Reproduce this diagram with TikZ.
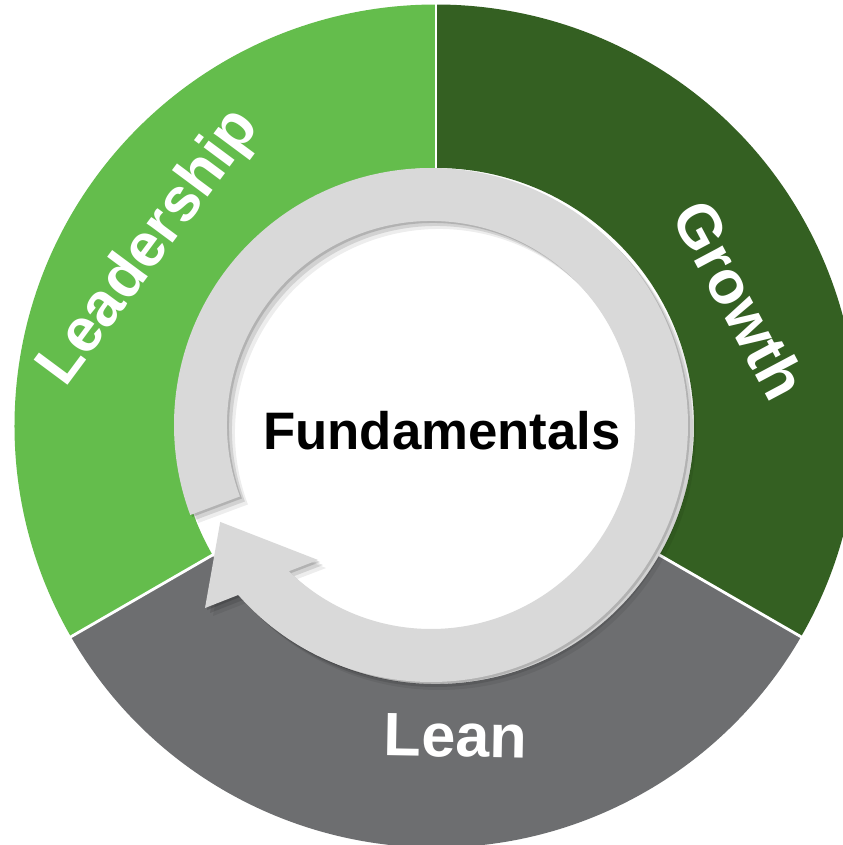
\documentclass[tikz,border=0pt]{standalone}
\usepackage{fontspec}
\setmainfont{Liberation Sans}

\definecolor{leadgreen}{RGB}{100,189,76}
\definecolor{growthgreen}{RGB}{52,96,34}
\definecolor{leangray}{RGB}{109,110,112}
\definecolor{bandgray}{RGB}{217,217,217}

\begin{document}
\begin{tikzpicture}[x=0.01cm, y=0.01cm,
        sep/.style={white, line width=0.8pt},
        lbl/.style={text=white, font=\bfseries\fontsize{17.4}{21}\selectfont, inner sep=0pt}]
    \useasboundingbox (-436,-419) rectangle (407,426);
    \clip (-436,-419) rectangle (407,426);
    \fill[white] (-436,-419) rectangle (407,426);

    % the three parts of the ring
    \foreach \a/\c in {90/leadgreen, -30/growthgreen, 210/leangray}
        \fill[\c] (\a:258) -- (\a:421.5) arc[start angle=\a, delta angle=120, radius=421.5]
            -- ({\a+120}:258) arc[start angle=\a+120, delta angle=-120, radius=258] -- cycle;
    \foreach \a in {90,210,330}
        \draw[sep] (\a:250) -- (\a:430);

    % circular arrow, with its shadow
    \foreach \s/\o/\c in {8/0.07/black, 5/0.11/black, 2/0.15/black, 0/1/bandgray}
        \fill[\c, opacity=\o, shift={(-5+\s,1-\s)}]
            (221.4:257) arc[start angle=221.4, end angle=560.5, radius=257]
            -- (560.5:204) arc[start angle=560.5, end angle=225.8, radius=204]
            -- (230.1:176) -- (204.7:232) -- (219:290.8) -- cycle;

    % labels
    \node[lbl, rotate=53.4] (leadership) at (-286,178) {Leadership};
    \node[lbl, rotate=-62] (growth) at (304,126) {Growth};
    \node[lbl, rotate=-1] (lean) at (19.5,-310) {Lean};
    \node[font=\bfseries\fontsize{15}{18}\selectfont, inner sep=0pt] (fundamentals) at (6,-4.5) {Fundamentals};
\end{tikzpicture}
\end{document}
